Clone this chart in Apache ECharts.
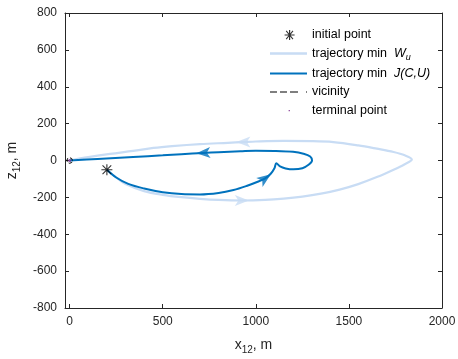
<html>
<head>
<meta charset="utf-8" />
<title>trajectory</title>
<script type="text/javascript" src="https://cdn.jsdelivr.net/npm/echarts@6/dist/echarts.min.js"></script>
</head>
<body style="margin:0;background:#fff;">
<div id="main" style="width:458px;height:359px;"></div>
<script type="text/javascript">
// data (metres)
var initialPoint = [[200, -50]];
var terminalPoint = [[0, 0]];

var lightPath = [
  [200, -50], [250, -92], [300, -128], [400, -166], [500, -186], [600, -199],
  [700, -208], [800, -214], [925, -217], [1050, -214], [1150, -207], [1250, -196],
  [1350, -180], [1450, -158], [1550, -128], [1650, -90], [1740, -50], [1800, -20],
  [1838, 5], [1800, 28], [1740, 46], [1650, 64], [1550, 82], [1416, 100],
  [1300, 105], [1150, 106], [1000, 103], [933, 100], [850, 96], [700, 89],
  [550, 78], [450, 68], [341, 52], [217, 36], [100, 18], [0, 0]
];

var darkPath = [
  [200, -50], [250, -92], [315, -127], [400, -152], [500, -172], [600, -182],
  [700, -184], [800, -176], [880, -160], [950, -138], [1010, -115], [1050, -97],
  [1080, -72], [1100, -42], [1110, -15], [1130, -32], [1160, -43], [1202, -48],
  [1250, -42], [1285, -22], [1302, 0], [1292, 22], [1256, 37], [1200, 47],
  [1100, 52], [1000, 53], [917, 50], [800, 45], [718, 41], [600, 34],
  [500, 28], [341, 19], [150, 8], [0, 0]
];

var vicinity = [
  [15, 0], [11, 11], [0, 15], [-11, 11], [-15, 0], [-11, -11], [0, -15], [11, -11], [15, 0]
];

// where the arrow heads sit on the curves
var lightArrows = [[925, -217], [933, 100]];
var darkArrows = [[1050, -97], [718, 41]];

var xMin = -25, xMax = 2000;
var yMin = -800, yMax = 800, yStep = 200;
var xLabelStep = 500;

// styles
var lightArrowAngles = [0, 180];
var darkArrowAngles = [35, 183];
var lightBlue = '#c8dcf4';
var darkBlue = '#0072bd';
var axisColor = '#262626';
var font = 'Liberation Sans, Arial, Helvetica, sans-serif';

var arrowSymbol = 'path://M0,0L20,8L0,16L5,8Z';
var starSymbol = 'path://M9,0H11V20H9Z M0,9H20V11H0Z M1.4,2.8L2.8,1.4L18.6,17.2L17.2,18.6Z M17.2,1.4L18.6,2.8L2.8,18.6L1.4,17.2Z';

// legend icons, with tiny anchors so the box is always 37x14
var box = 'M0,0L0.01,0Z M37,14L37.01,14Z ';
var starIcon = 'path://' + box + 'M19,2H20.2V12H19Z M14.6,6.4H24.6V7.6H14.6Z M15.8,3.2L16.6,2.4L23.4,10.8L22.6,11.6Z M22.6,2.4L23.4,3.2L16.6,11.6L15.8,10.8Z';
var lightIcon = 'path://' + box + 'M0,5.8H37V8.2H0Z';
var darkIcon = 'path://' + box + 'M0,5.9H37V8.1H0Z';
var dashIcon = 'path://' + box + 'M0,6.5H7V7.5H0Z M10,6.5H17V7.5H10Z M20,6.5H28V7.5H20Z M36,6.5H37V7.5H36Z';
var dotIcon = 'path://' + box + 'M18.6,6.4H20V7.8H18.6Z';

var legendText = {
  'initial point': 'initial point',
  'trajectory min Wu': 'trajectory min  {i|W}{sub|u}',
  'trajectory min J(C,U)': 'trajectory min  {i|J(C,U)}',
  'vicinity': 'vicinity',
  'terminal point': 'terminal point'
};

var myChart = echarts.init(document.getElementById('main'));

function sideAxis(pos, min, max, step) {
  var a = {
    type: 'value', position: pos, min: min, max: max,
    axisLine: { show: true, onZero: false, lineStyle: { color: axisColor, width: 1 } },
    axisTick: { show: true, inside: true, length: 4, lineStyle: { color: axisColor } },
    axisLabel: { show: false },
    splitLine: { show: false }
  };
  if (step) a.interval = step;
  return a;
}

var xBottom = sideAxis('bottom', xMin, xMax);
xBottom.axisLabel = {
  show: true, color: axisColor, fontSize: 12, fontFamily: font, margin: 8,
  formatter: function (v) { return v % xLabelStep === 0 ? String(v) : ''; }
};
xBottom.name = 'x{sub|12}, m';
xBottom.nameLocation = 'middle';
xBottom.nameGap = 28;
xBottom.nameTextStyle = {
  color: axisColor, fontSize: 14, fontFamily: font,
  rich: { sub: { fontSize: 10, padding: [9, 0, 0, 0], fontFamily: font, color: axisColor } }
};

var yLeft = sideAxis('left', yMin, yMax, yStep);
yLeft.axisLabel = { show: true, color: axisColor, fontSize: 12, fontFamily: font, margin: 8 };
yLeft.name = 'z{sub|12}, m';
yLeft.nameLocation = 'middle';
yLeft.nameGap = 35;
yLeft.nameTextStyle = {
  color: axisColor, fontSize: 14, fontFamily: font,
  rich: { sub: { fontSize: 10, padding: [9, 0, 0, 0], fontFamily: font, color: axisColor } }
};

var option = {
  animation: false,
  backgroundColor: '#fff',
  grid: { left: 65, right: 16, top: 13, bottom: 51, outerBoundsMode: 'none', containLabel: false },
  xAxis: [xBottom, sideAxis('top', xMin, xMax)],
  yAxis: [yLeft, sideAxis('right', yMin, yMax, yStep)],
  legend: {
    orient: 'vertical', left: 265, top: 23,
    itemWidth: 37, itemHeight: 14, itemGap: 4.5,
    selectedMode: false,
    textStyle: {
      color: '#000', fontSize: 12.5, fontFamily: font, padding: [0, 0, 0, 0],
      rich: {
        i: { fontStyle: 'italic', fontSize: 12.5, fontFamily: font, color: '#000' },
        sub: { fontStyle: 'italic', fontSize: 9, padding: [8, 0, 0, 0], fontFamily: font, color: '#000' }
      }
    },
    formatter: function (name) { return legendText[name]; },
    data: [
      { name: 'initial point', icon: starIcon },
      { name: 'trajectory min Wu', icon: lightIcon },
      { name: 'trajectory min J(C,U)', icon: darkIcon },
      { name: 'vicinity', icon: dashIcon },
      { name: 'terminal point', icon: dotIcon }
    ]
  },
  series: [
    {
      name: 'trajectory min Wu', type: 'line', data: lightPath,
      color: lightBlue, showSymbol: false, smooth: 0.35, z: 2,
      lineStyle: { color: lightBlue, width: 2.2 }
    },
    {
      name: 'light arrows', type: 'scatter', data: lightArrows, z: 3,
      symbol: arrowSymbol, symbolSize: [14, 11], symbolKeepAspect: false,
      symbolRotate: function (v, p) { return lightArrowAngles[p.dataIndex]; },
      itemStyle: { color: lightBlue }
    },
    {
      name: 'trajectory min J(C,U)', type: 'line', data: darkPath,
      color: darkBlue, showSymbol: false, smooth: 0.35, z: 4,
      lineStyle: { color: darkBlue, width: 2 }
    },
    {
      name: 'dark arrows', type: 'scatter', data: darkArrows, z: 5,
      symbol: arrowSymbol, symbolSize: [14, 11], symbolKeepAspect: false,
      symbolRotate: function (v, p) { return darkArrowAngles[p.dataIndex]; },
      itemStyle: { color: darkBlue }
    },
    {
      name: 'vicinity', type: 'line', data: vicinity, color: '#000',
      showSymbol: false, z: 6,
      lineStyle: { color: '#000', width: 1, type: 'dashed' }
    },
    {
      name: 'terminal point', type: 'scatter', data: terminalPoint, color: '#7e2f8e',
      symbol: 'circle', symbolSize: 3, z: 7
    },
    {
      name: 'initial point', type: 'scatter', data: initialPoint, color: '#000',
      symbol: starSymbol, symbolSize: 11, z: 8
    }
  ]
};
myChart.setOption(option);
</script>
</body>
</html>
